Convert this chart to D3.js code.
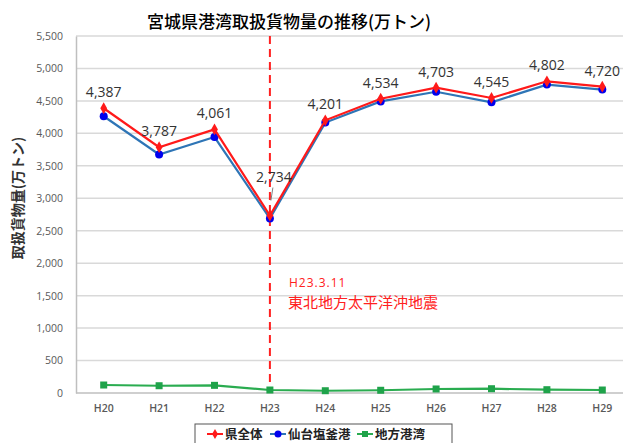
<!DOCTYPE html>
<html>
<head>
<meta charset="utf-8">
<script src="https://cdn.jsdelivr.net/npm/d3@7"></script>
<style>
  body { margin: 0; background: #fff; }
  svg { display: block; }
</style>
</head>
<body>
<svg id="chart" width="623" height="443"></svg>
<script>
// data
var years = ["H20", "H21", "H22", "H23", "H24", "H25", "H26", "H27", "H28", "H29"];
var total = [4387, 3787, 4061, 2734, 4201, 4534, 4703, 4545, 4802, 4720];
var sendai = [4264, 3675, 3943, 2688, 4166, 4492, 4641, 4479, 4751, 4674];
var local = [123, 112, 118, 46, 35, 42, 62, 66, 51, 46];
var yTicks = [0, 500, 1000, 1500, 2000, 2500, 3000, 3500, 4000, 4500, 5000, 5500];
var seriesNames = ["県全体", "仙台塩釜港", "地方港湾"];

var jp = "'Noto Sans CJK JP', 'Noto Sans', sans-serif";
var lat = "'Open Sans', 'Liberation Sans', sans-serif";

var svg = d3.select("#chart");

var x = d3.scaleBand().domain(years).range([76, 630]);
var y = d3.scaleLinear().domain([0, 5500]).range([393, 36]);
function cx(d) { return x(d) + x.bandwidth() / 2; }

// title
svg.append("text")
    .attr("x", 289).attr("y", 28)
    .attr("text-anchor", "middle")
    .style("font-family", jp).style("font-size", "17px").style("font-weight", 500)
    .attr("fill", "#000")
    .text("宮城県港湾取扱貨物量の推移(万トン)");

// grid
svg.append("g").selectAll("line")
    .data(yTicks.filter(function(d) { return d > 0; }))
    .enter().append("line")
    .attr("x1", 76).attr("x2", 623)
    .attr("y1", function(d) { return y(d); })
    .attr("y2", function(d) { return y(d); })
    .attr("stroke", "#d9d9d9").attr("stroke-width", 1.5);

// y axis
var yAxis = svg.append("g")
    .attr("transform", "translate(76,0)")
    .call(d3.axisLeft(y).tickValues(yTicks).tickSize(0).tickPadding(13).tickFormat(d3.format(",")));
yAxis.select(".domain").attr("stroke", "#bfbfbf").attr("stroke-width", 1.5);
yAxis.selectAll("text")
    .style("font-family", lat).style("font-size", "10.5px").attr("fill", "#595959");

// x axis
var xAxis = svg.append("g")
    .attr("transform", "translate(0,393)")
    .call(d3.axisBottom(x).tickSize(0).tickPadding(12));
xAxis.select(".domain").attr("d", "M76,0H623").attr("stroke", "#bfbfbf").attr("stroke-width", 1.5);
xAxis.selectAll("text")
    .style("font-family", lat).style("font-size", "10.5px").style("font-weight", 600).attr("fill", "#595959");

// y title
svg.append("text")
    .attr("transform", "translate(23,198) rotate(-90)")
    .attr("text-anchor", "middle")
    .style("font-family", jp).style("font-size", "14px").style("font-weight", 700)
    .attr("fill", "#333")
    .text("取扱貨物量(万トン)");

// earthquake marker
svg.append("line")
    .attr("x1", cx("H23")).attr("x2", cx("H23"))
    .attr("y1", 36).attr("y2", 393)
    .attr("stroke", "#ff2020").attr("stroke-width", 2)
    .attr("stroke-dasharray", "8,5");
svg.append("text")
    .attr("x", 289).attr("y", 287)
    .style("font-family", lat).style("font-size", "12px").style("letter-spacing", "1px")
    .attr("fill", "#ff2020")
    .text("H23.3.11");
svg.append("text")
    .attr("x", 288).attr("y", 308)
    .style("font-family", jp).style("font-size", "15px")
    .attr("fill", "#ff2020")
    .text("東北地方太平洋沖地震");

function drawLine(vals, color, width) {
    var line = d3.line()
        .x(function(d, i) { return cx(years[i]); })
        .y(function(d) { return y(d); });
    svg.append("path")
        .datum(vals)
        .attr("d", line)
        .attr("fill", "none")
        .attr("stroke", color).attr("stroke-width", width);
}

// local ports
drawLine(local, "#2aac50", 2.2);
svg.append("g").selectAll("rect")
    .data(local).enter().append("rect")
    .attr("x", function(d, i) { return cx(years[i]) - 3.5; })
    .attr("y", function(d) { return y(d) - 3.5; })
    .attr("width", 7).attr("height", 7)
    .attr("fill", "#1fa34a");

// sendai shiogama
drawLine(sendai, "#2e75b6", 2.2);
svg.append("g").selectAll("circle")
    .data(sendai).enter().append("circle")
    .attr("cx", function(d, i) { return cx(years[i]); })
    .attr("cy", function(d) { return y(d); })
    .attr("r", 4)
    .attr("fill", "#0000ee");

// prefecture total
drawLine(total, "#ff1a1a", 2.2);
svg.append("g").selectAll("path.dm")
    .data(total).enter().append("path")
    .attr("class", "dm")
    .attr("d", d3.symbol().type(d3.symbolDiamond).size(40))
    .attr("transform", function(d, i) { return "translate(" + cx(years[i]) + "," + y(d) + ")"; })
    .attr("fill", "#ff1a1a");

// data labels
var fmt = d3.format(",");
svg.append("g").selectAll("text")
    .data(total).enter().append("text")
    .attr("transform", function(d, i) {
        var dx = 0, dy = -16;
        if (i === 3) { dx = 4; dy = -39; }
        return "translate(" + (cx(years[i]) + dx) + "," + (y(d) + dy) + ")";
    })
    .attr("text-anchor", "middle").attr("dy", "0.36em")
    .style("font-family", lat).style("font-size", "14px")
    .attr("fill", "#333")
    .text(function(d) { return fmt(d); });

// leader line for H23 label
svg.append("line")
    .attr("x1", cx("H23") + 3).attr("y1", y(total[3]) - 28)
    .attr("x2", cx("H23") + 1).attr("y2", y(total[3]) - 15)
    .attr("stroke", "#7f7f7f").attr("stroke-width", 1);

// legend
var lg = svg.append("g");
lg.append("rect")
    .attr("x", 195).attr("y", 424).attr("width", 257).attr("height", 26)
    .attr("fill", "#fff").attr("stroke", "#555").attr("stroke-width", 1);
var legendX = [207, 270, 357];
var legendColors = [["#ff1a1a", "#ff1a1a"], ["#2e75b6", "#0000ee"], ["#2aac50", "#1fa34a"]];
seriesNames.forEach(function(name, i) {
    var g = lg.append("g").attr("transform", "translate(" + legendX[i] + ",434)");
    g.append("line").attr("x1", 0).attr("x2", 16).attr("stroke", legendColors[i][0]).attr("stroke-width", 2);
    if (i === 0) g.append("path").attr("d", d3.symbol().type(d3.symbolDiamond).size(30)).attr("transform", "translate(8,0)").attr("fill", legendColors[i][1]);
    if (i === 1) g.append("circle").attr("cx", 8).attr("r", 3.5).attr("fill", legendColors[i][1]);
    if (i === 2) g.append("rect").attr("x", 5).attr("y", -3).attr("width", 6).attr("height", 6).attr("fill", legendColors[i][1]);
    g.append("text")
        .attr("x", 18).attr("dy", "0.36em")
        .style("font-family", jp).style("font-size", "12.5px").style("font-weight", 700)
        .attr("fill", "#222")
        .text(name);
});
</script>
</body>
</html>
